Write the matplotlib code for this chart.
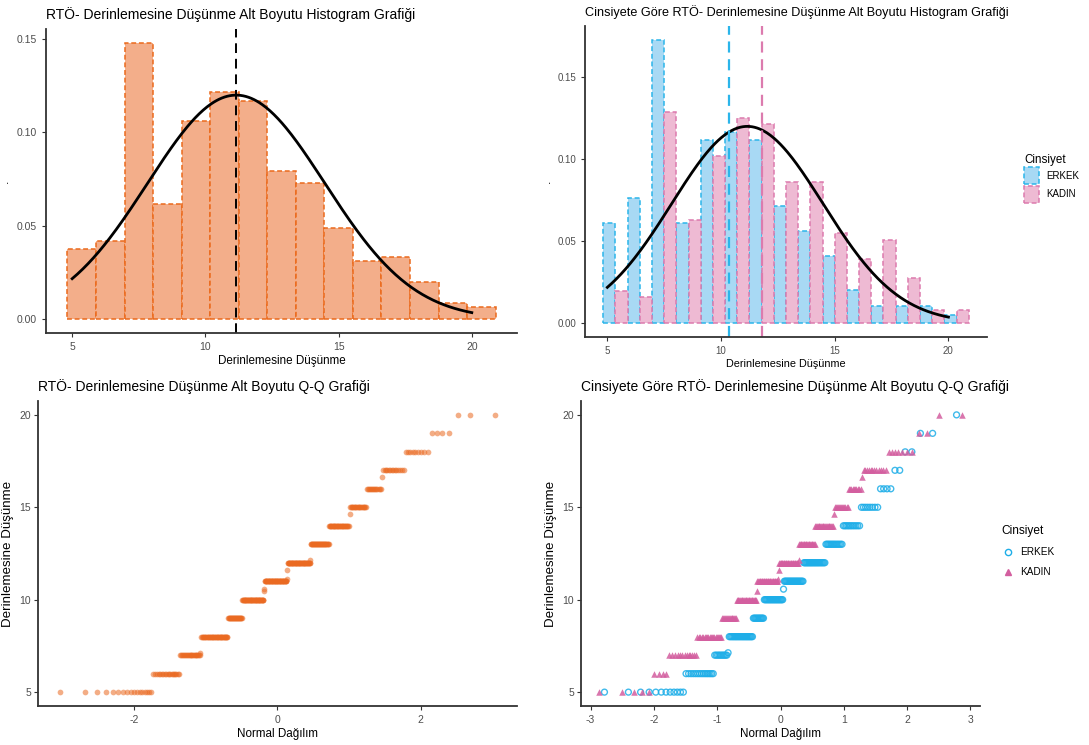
import numpy as np
import matplotlib
matplotlib.use("Agg")
import matplotlib.pyplot as plt
from matplotlib.patches import Patch
from matplotlib.lines import Line2D
from statistics import NormalDist

plt.rcParams['font.family'] = ['Liberation Sans', 'DejaVu Sans']
plt.rcParams['axes.unicode_minus'] = False

# ---------------- data ----------------
groups = ["ERKEK", "KADIN"]
erkek_values = [5, 6, 7, 7.13, 8, 9, 10, 10.57, 11, 12, 13, 14, 15, 16, 17, 18, 19, 20]
erkek_counts = [12, 15, 10, 1, 23, 12, 22, 1, 22, 22, 14, 11, 8, 4, 2, 2, 2, 1]
kadin_values = [5, 6, 7, 8, 9, 10, 10.46, 11, 11.1, 11.63, 12, 12.17, 13, 14, 14.62, 15,
                16, 16.62, 17, 18, 19, 20]
kadin_counts = [5, 4, 13, 20, 16, 26, 1, 30, 1, 1, 29, 1, 22, 22, 1, 13, 10, 1, 12, 7, 2, 2]
n_bins = 15

x_label = "Derinlemesine Düşünme"
qq_x_label = "Normal Dağılım"
titles = ["RTÖ- Derinlemesine Düşünme Alt Boyutu Histogram Grafiği",
          "Cinsiyete Göre RTÖ- Derinlemesine Düşünme Alt Boyutu Histogram Grafiği",
          "RTÖ- Derinlemesine Düşünme Alt Boyutu Q-Q Grafiği",
          "Cinsiyete Göre RTÖ- Derinlemesine Düşünme Alt Boyutu Q-Q Grafiği"]
legend_title = "Cinsiyet"

# ---------------- derived ----------------
erkek = np.repeat(erkek_values, erkek_counts).astype(float)
kadin = np.repeat(kadin_values, kadin_counts).astype(float)
allv = np.concatenate([erkek, kadin])

lo, hi = allv.min(), allv.max()
width = (hi - lo) / (n_bins - 1)
boundary = width / 2
shift = np.floor((lo - boundary) / width)
origin = boundary + shift * width
edges = origin + width * np.arange(n_bins + 1)

mu, sd = allv.mean(), allv.std(ddof=1)

def npdf(x, m, s):
    return np.exp(-0.5 * ((x - m) / s) ** 2) / (s * np.sqrt(2 * np.pi))

xs = np.linspace(lo, hi, 300)

def qq(v):
    v = np.sort(v)
    n = len(v)
    nd = NormalDist()
    th = np.array([nd.inv_cdf((i - 0.5) / n) for i in range(1, n + 1)])
    return th, v

W, H = 1089, 745
fig = plt.figure(figsize=(W / 100, H / 100), dpi=100)

def box(l, r, t, b):
    return [l / W, 1 - b / H, (r - l) / W, (b - t) / H]

ax1 = fig.add_axes(box(46, 517, 29, 333))
ax2 = fig.add_axes(box(585, 987, 26, 337))
ax3 = fig.add_axes(box(38, 517, 401, 706))
ax4 = fig.add_axes(box(581, 980, 401, 706))

tick_col = '#4D4D4D'
for ax in (ax1, ax2, ax3, ax4):
    for s in ('top', 'right'):
        ax.spines[s].set_visible(False)
    for s in ('left', 'bottom'):
        ax.spines[s].set_linewidth(1.3)
        ax.spines[s].set_color('#333333')
    ax.tick_params(labelsize=7.5, labelcolor=tick_col, color='#333333', length=3, width=0.8)
ax2.tick_params(labelsize=7)
for ax in (ax3, ax4):
    ax.tick_params(axis='y', pad=2)

dash = (0, (3.2, 1.8))

# ----- top-left histogram -----
dens, _ = np.histogram(allv, bins=edges, density=True)
ax1.bar(edges[:-1], dens, width=width, align='edge', facecolor='#F3AE8A',
        edgecolor='#EB6A1C', linewidth=1.1, linestyle=dash)
ax1.plot(xs, npdf(xs, mu, sd), color='black', lw=2.0)
ax1.axvline(mu, color='black', lw=1.4, linestyle=(0, (5, 3)))
span = edges[-1] - edges[0]
ax1.set_xlim(edges[0] - 0.05 * span, edges[-1] + 0.05 * span)
ax1.set_ylim(-0.05 * dens.max(), dens.max() * 1.05)
ax1.set_xticks([5, 10, 15, 20])
ax1.set_yticks([0, 0.05, 0.10, 0.15])
ax1.set_yticklabels(['0.00', '0.05', '0.10', '0.15'])
ax1.set_xlabel(x_label, fontsize=8.4, labelpad=2)
ax1.set_ylabel('.', fontsize=9, labelpad=4)
ax1.set_title(titles[0], fontsize=10.0, loc='left', pad=7)

# ----- top-right dodged histogram -----
fills = {'ERKEK': '#A8D9F4', 'KADIN': '#EEBAD3'}
lines = {'ERKEK': '#2BB5EA', 'KADIN': '#DC7BAE'}
half = width / 2
dmax = 0
for k, (g, data) in enumerate(zip(groups, [erkek, kadin])):
    d, _ = np.histogram(data, bins=edges, density=True)
    dmax = max(dmax, d.max())
    ax2.bar(edges[:-1] + k * half, d, width=half, align='edge', facecolor=fills[g],
            edgecolor=lines[g], linewidth=1.1, linestyle=dash)
ax2.plot(xs, npdf(xs, mu, sd), color='black', lw=2.0)
for g, data in zip(groups, [erkek, kadin]):
    ax2.axvline(data.mean(), color=lines[g], lw=1.6, linestyle=(0, (5, 3)))
ax2.set_xlim(edges[0] - 0.05 * span, edges[-1] + 0.05 * span)
ax2.set_ylim(-0.05 * dmax, dmax * 1.05)
ax2.set_xticks([5, 10, 15, 20])
ax2.set_yticks([0, 0.05, 0.10, 0.15])
ax2.set_yticklabels(['0.00', '0.05', '0.10', '0.15'])
ax2.set_xlabel(x_label, fontsize=7.8, labelpad=2)
ax2.set_ylabel('.', fontsize=9, labelpad=3)
ax2.set_title(titles[1], fontsize=9.1, loc='left', pad=7)
h2 = [Patch(facecolor=fills[g], edgecolor=lines[g], linestyle=dash, linewidth=1.1) for g in groups]
leg2 = ax2.legend(h2, groups, title=legend_title, loc='upper left',
                  bbox_to_anchor=((1020 - 585) / (987 - 585), 1 - (150 - 26) / (337 - 26)),
                  frameon=False, fontsize=7.0, title_fontsize=8.4, handlelength=1.6,
                  handleheight=2.3, handletextpad=0.7, labelspacing=0.15, borderaxespad=0)
leg2._legend_box.align = 'left'

# ----- bottom-left QQ -----
th, sv = qq(allv)
ax3.scatter(th, sv, s=17, color='#EA6A22', alpha=0.55, linewidths=0)
ax3.set_xlim(th.min() * 1.1, th.max() * 1.1)
ax3.set_ylim(lo - 0.05 * (hi - lo), hi + 0.05 * (hi - lo))
ax3.set_xticks([-2, 0, 2])
ax3.set_yticks([5, 10, 15, 20])
ax3.set_xlabel(qq_x_label, fontsize=8.4, labelpad=2)
ax3.set_ylabel(x_label, fontsize=9.6, labelpad=4)
ax3.set_title(titles[2], fontsize=10.0, loc='left', pad=7)

# ----- bottom-right QQ -----
qcol = {'ERKEK': '#1EAEE8', 'KADIN': '#D35E9F'}
th_e, v_e = qq(erkek)
th_k, v_k = qq(kadin)
ax4.scatter(th_e, v_e, s=18, facecolors='none', edgecolors=qcol['ERKEK'], linewidths=1.0, alpha=0.85)
ax4.scatter(th_k, v_k, s=22, marker='^', color=qcol['KADIN'], linewidths=0, alpha=0.85)
xm = max(abs(th_e).max(), abs(th_k).max())
ax4.set_xlim(-xm * 1.1, xm * 1.1)
ax4.set_ylim(lo - 0.05 * (hi - lo), hi + 0.05 * (hi - lo))
ax4.set_xticks([-3, -2, -1, 0, 1, 2, 3])
ax4.set_yticks([5, 10, 15, 20])
ax4.set_xlabel(qq_x_label, fontsize=8.4, labelpad=2)
ax4.set_ylabel(x_label, fontsize=9.6, labelpad=4)
ax4.set_title(titles[3], fontsize=10.0, loc='left', pad=7)
h4 = [Line2D([], [], marker='o', linestyle='none', markerfacecolor='none',
             markeredgecolor=qcol['ERKEK'], markersize=4.5, markeredgewidth=1.0),
      Line2D([], [], marker='^', linestyle='none', color=qcol['KADIN'], markersize=5)]
leg4 = ax4.legend(h4, groups, title=legend_title, loc='upper left',
                  bbox_to_anchor=((997 - 581) / (980 - 581), 1 - (521 - 401) / (706 - 401)),
                  frameon=False, fontsize=7.2, title_fontsize=8.6, handlelength=1.3,
                  handletextpad=0.6, labelspacing=1.0, borderaxespad=0)
leg4._legend_box.align = 'left'

fig.savefig('out.png', dpi=100)
